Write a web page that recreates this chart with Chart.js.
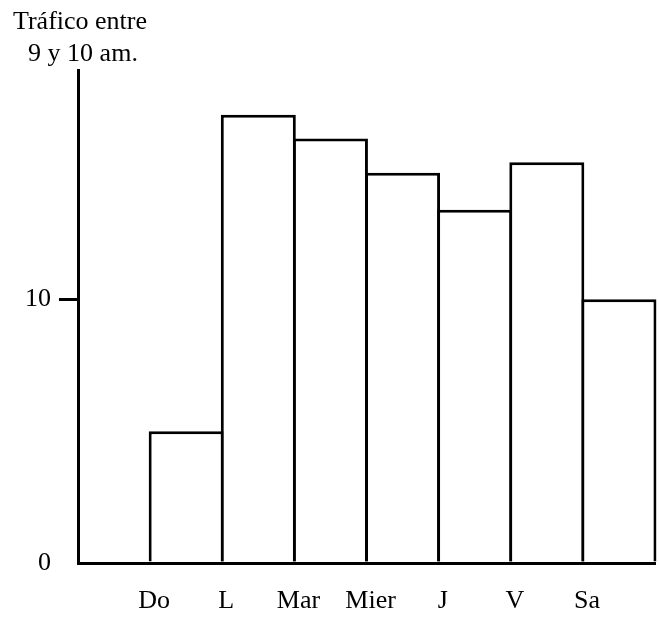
<!DOCTYPE html>
<html>
<head>
<meta charset="utf-8">
<script src="https://cdn.jsdelivr.net/npm/chart.js@4"></script>
<style>
  body { margin: 0; background: #fff; }
  canvas { display: block; }
</style>
</head>
<body>
<canvas id="traffic" width="659" height="617"></canvas>
<script>
// Datos
const days = ['', 'Do', 'L', 'Mar', 'Mier', 'J', 'V', 'Sa'];
const traffic = [null, 5, 17, 16.1, 14.8, 13.4, 15.2, 10];
const yTicks = [0, 10];
const titleLines = ['Tráfico entre', '9 y 10 am.'];

const serif = "'Liberation Serif', 'Times New Roman', serif";

// Titulo arriba del eje
const cornerTitle = {
    id: 'cornerTitle',
    afterDraw(chart) {
        const ctx = chart.ctx;
        const x = chart.chartArea.left + 2;
        ctx.save();
        ctx.fillStyle = '#000';
        ctx.font = '26px ' + serif;
        ctx.textAlign = 'center';
        ctx.textBaseline = 'alphabetic';
        ctx.fillText(titleLines[0], x, 29);
        ctx.fillText(titleLines[1], x + 3, 61);
        ctx.restore();
    }
};

new Chart(document.getElementById('traffic'), {
    type: 'bar',
    data: {
        labels: days,
        datasets: [{
            data: traffic,
            backgroundColor: '#fff',
            borderColor: '#000',
            borderWidth: 3,
            barPercentage: 1.04,
            categoryPercentage: 1,
            clip: false
        }]
    },
    options: {
        responsive: false,
        animation: false,
        layout: { padding: { top: 70, right: 4, left: 0, bottom: 0 } },
        plugins: {
            legend: { display: false },
            tooltip: { enabled: false },
            title: { display: false }
        },
        scales: {
            x: {
                z: 1,
                grid: { display: false, drawTicks: false },
                border: { color: '#000', width: 3 },
                ticks: {
                    color: '#000',
                    font: { family: serif, size: 26 },
                    padding: 23,
                    labelOffset: -32,
                    maxRotation: 0,
                    autoSkip: false
                },
                afterFit(scale) { scale.height = 54; }
            },
            y: {
                z: 1,
                min: 0,
                max: 18.7,
                afterBuildTicks(scale) {
                    scale.ticks = yTicks.map(v => ({ value: v }));
                },
                grid: {
                    drawOnChartArea: false,
                    drawTicks: true,
                    tickLength: 19,
                    lineWidth: 3,
                    color: ctx => (ctx.tick && ctx.tick.value === 10) ? '#000' : 'rgba(0,0,0,0)'
                },
                border: { color: '#000', width: 3 },
                ticks: {
                    color: '#000',
                    font: { family: serif, size: 26 },
                    padding: 8
                },
                afterFit(scale) { scale.width = 78; }
            }
        }
    },
    plugins: [cornerTitle]
});
</script>
</body>
</html>
